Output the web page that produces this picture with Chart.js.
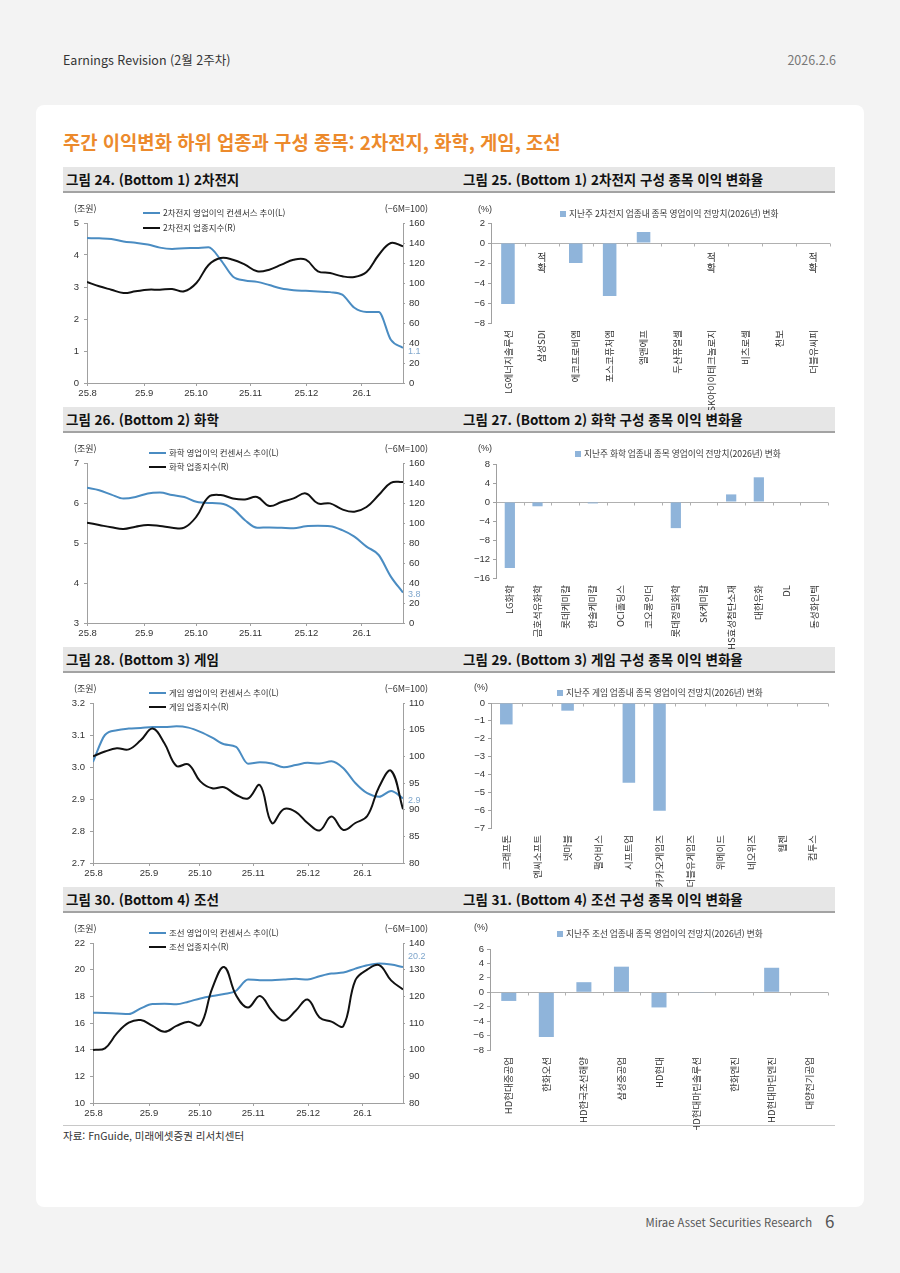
<!DOCTYPE html>
<html lang="ko"><head><meta charset="utf-8">
<script src="https://cdn.jsdelivr.net/npm/chart.js@4.4.1/dist/chart.umd.min.js"></script>
<style>
html,body{margin:0;padding:0;}
body{width:900px;height:1273px;background:#f3f3f3;position:relative;overflow:hidden;font-family:"Noto Sans CJK KR","Noto Sans",sans-serif;color:#222;}
.a{position:absolute;white-space:nowrap;}
#panel{left:36px;top:105px;width:828px;height:1102px;background:#fff;border-radius:8px;}
.hdr{position:absolute;left:63px;width:772px;height:24px;background:#e6e6e6;border-bottom:2px solid #a3a3a3;}
.ht{position:absolute;top:0;font-size:13.5px;font-weight:700;color:#111;line-height:24px;white-space:nowrap;}
canvas{position:absolute;}
</style></head><body>
<div class="a" style="left:63px;top:50px;font-size:12.5px;color:#333">Earnings Revision (2월 2주차)</div>
<div class="a" style="right:64px;top:50px;font-size:12.5px;color:#777">2026.2.6</div>
<div id="panel" class="a"></div>
<div class="a" style="left:63px;top:128px;font-size:18.8px;font-weight:700;color:#ec8a2c">주간 이익변화 하위 업종과 구성 종목: 2차전지, 화학, 게임, 조선</div>

<div class="hdr" style="top:167px"><span class="ht" style="left:3px">그림 24. (Bottom 1) 2차전지</span><span class="ht" style="left:400px">그림 25. (Bottom 1) 2차전지 구성 종목 이익 변화율</span></div>
<div class="hdr" style="top:407px"><span class="ht" style="left:3px">그림 26. (Bottom 2) 화학</span><span class="ht" style="left:400px">그림 27. (Bottom 2) 화학 구성 종목 이익 변화율</span></div>
<div class="hdr" style="top:647px"><span class="ht" style="left:3px">그림 28. (Bottom 3) 게임</span><span class="ht" style="left:400px">그림 29. (Bottom 3) 게임 구성 종목 이익 변화율</span></div>
<div class="hdr" style="top:887px"><span class="ht" style="left:3px">그림 30. (Bottom 4) 조선</span><span class="ht" style="left:400px">그림 31. (Bottom 4) 조선 구성 종목 이익 변화율</span></div>

<canvas id="c24" width="380" height="205" style="left:60px;top:200px"></canvas>
<canvas id="c25" width="380" height="210" style="left:460px;top:200px"></canvas>
<canvas id="c26" width="380" height="205" style="left:60px;top:440px"></canvas>
<canvas id="c27" width="380" height="210" style="left:460px;top:440px"></canvas>
<canvas id="c28" width="380" height="205" style="left:60px;top:680px"></canvas>
<canvas id="c29" width="380" height="210" style="left:460px;top:680px"></canvas>
<canvas id="c30" width="380" height="205" style="left:60px;top:920px"></canvas>
<canvas id="c31" width="380" height="210" style="left:460px;top:920px"></canvas>

<div class="a" style="left:63px;top:1125px;width:772px;height:1px;background:#c8c8c8"></div>
<div class="a" style="left:63px;top:1128px;font-size:10.5px;color:#333">자료: FnGuide, 미래에셋증권 리서치센터</div>
<div class="a" style="right:88px;top:1214px;font-size:11.3px;color:#555">Mirae Asset Securities Research</div>
<div class="a" style="left:825px;top:1208px;font-size:17px;color:#555">6</div>

<script>
// ---------- DATA ----------
const weekIdx = [0,1,2,3,4,5,6,7,8,9,10,11,12,13,14,15,16,17,18,19,20,21,22,23,24,25,26];
const monthLabels = ['25.8','25.9','25.10','25.11','25.12','26.1'];
const monthPos = [0.05,4.7,8.97,13.45,18.05,22.6];

const battCons = [4.53,4.52,4.50,4.42,4.38,4.33,4.23,4.19,4.21,4.22,4.24,3.85,3.33,3.20,3.16,3.06,2.95,2.90,2.88,2.86,2.84,2.76,2.35,2.22,2.22,1.35,1.10];
const battIdx  = [101,96.7,93.3,90,91.7,93.3,93.3,94,91.7,100,118,125,123.3,118.3,111.7,113.3,118.3,123.3,123.3,111.7,110,106.7,106,111,128,140,136.7];

const chemCons = [6.38,6.32,6.21,6.11,6.15,6.24,6.26,6.20,6.15,6.03,6.00,5.99,5.86,5.57,5.38,5.39,5.38,5.37,5.42,5.43,5.42,5.32,5.16,4.91,4.70,4.16,3.76];
const chemIdx  = [100.3,98,95.7,94,96.3,98,97,95.3,95.3,106.3,126,127.9,124.6,123.6,126,117,121,124.6,129.6,119.6,119.6,113.6,111.3,116,128,140.2,141];

const gameCons = [3.016,3.100,3.115,3.120,3.122,3.125,3.125,3.127,3.123,3.110,3.092,3.071,3.063,3.010,3.015,3.011,2.999,3.006,3.013,3.011,3.018,2.996,2.950,2.918,2.907,2.925,2.902];
const gameIdx  = [100,100.9,101.5,101.3,103,105.2,102.4,98.2,98.5,95.3,94,94.2,92.8,92.1,94.6,87.5,90.1,89.6,87.5,86.1,88.7,86.2,87.5,88.8,94.3,97.3,90.1];

const shipCons = [16.77,16.75,16.72,16.67,17.10,17.42,17.44,17.40,17.60,17.84,18.02,18.17,18.42,19.26,19.21,19.21,19.26,19.31,19.26,19.51,19.71,19.78,20.08,20.33,20.46,20.38,20.20];
const shipIdx  = [99.9,100.5,106.1,110.1,111.1,108.9,106.7,108.9,110.5,109.2,123,131,120.4,115.8,120.1,114.6,110.9,114.6,118.8,112.1,110.5,108.9,126,130,131.7,126,122.6];

const battNames = ['LG에너지솔루션','삼성SDI','에코프로비엠','포스코퓨처엠','엘앤에프','두산퓨얼셀','SK아이이테크놀로지','비츠로셀','천보','더블유씨피'];
const battChg   = [-6.1,null,-2.0,-5.3,1.1,0,null,0,0,null];
const battNotes = ['','적확','','','','','적확','','','적확'];
const noteLevels = [-1.4,-2.5];

const chemNames = ['LG화학','금호석유화학','롯데케미칼','한솔케미칼','OCI홀딩스','코오롱인더','롯데정밀화학','SK케미칼','HS효성첨단소재','대한유화','DL','동성화인텍'];
const chemChg   = [-13.9,-0.9,0,-0.3,0,0,-5.5,0,1.6,5.2,0,0];

const gameNames = ['크래프톤','엔씨소프트','넷마블','펄어비스','시프트업','카카오게임즈','더블유게임즈','위메이드','네오위즈','웹젠','컴투스'];
const gameChg   = [-1.2,0,-0.43,0,-4.46,-6.03,0,0,0,0,0];

const shipNames = ['HD현대중공업','한화오션','HD한국조선해양','삼성중공업','HD현대','HD현대마린솔루션','한화엔진','HD현대마린엔진','대양전기공업'];
const shipChg   = [-1.2,-6.2,1.4,3.55,-2.1,-0.1,0,3.4,0];

// ---------- STYLE ----------
const FONT = '"Liberation Sans","Noto Sans CJK KR",sans-serif';
const KFONT = '"Noto Sans CJK KR","Liberation Sans",sans-serif';
const BLUE = '#4a8cc2', BLACK = '#111111', BAR = '#8fb4da', ENDC = '#7fa6cc', AX = '#a0a0a0';
Chart.defaults.font.family = FONT;
Chart.defaults.color = '#333';

const lineExtras = {
  id: 'lineExtras',
  afterDraw(chart, args, o) {
    const c = chart.ctx; c.save();
    c.font = '9px ' + KFONT; c.fillStyle = '#333'; c.textBaseline = 'middle';
    c.textAlign = 'left'; c.fillText('(조원)', o.unitLX, o.unitY);
    c.textAlign = 'right'; c.fillText('(\u22126M=100)', 368, o.unitY);
    c.textAlign = 'left';
    chart.data.datasets.forEach((ds, i) => {
      const y = o.legY[i];
      c.strokeStyle = ds.borderColor; c.lineWidth = 2;
      c.beginPath(); c.moveTo(o.legX, y); c.lineTo(o.legX + 17, y); c.stroke();
      c.fillStyle = '#333'; c.font = '8.5px ' + KFONT; c.fillText(ds.label, o.legX + 20, y);
    });
    const d = chart.data.datasets[0].data; const v = d[d.length - 1];
    c.fillStyle = ENDC; c.font = '9px ' + FONT;
    c.fillText(v.toFixed(1), chart.chartArea.right + 5, chart.scales.yL.getPixelForValue(v) + o.endDy);
    c.restore();
  }
};

function lineChart(id, cfg) {
  return new Chart(document.getElementById(id), {
    type: 'line',
    data: { labels: weekIdx, datasets: [
      { label: cfg.names[0], data: cfg.blue, yAxisID: 'yL', borderColor: BLUE, borderWidth: 2, pointRadius: 0, cubicInterpolationMode: 'monotone', order: 1 },
      { label: cfg.names[1], data: cfg.black, yAxisID: 'yR', borderColor: BLACK, borderWidth: 2, pointRadius: 0, tension: 0.4, order: 0 }
    ]},
    plugins: [lineExtras],
    options: {
      responsive: false, animation: false, events: [],
      layout: { padding: { top: 23, left: 0, right: 0, bottom: 0 } },
      plugins: { legend: { display: false }, tooltip: { enabled: false },
        lineExtras: { unitLX: 14, unitY: 9, legX: cfg.legX, legY: cfg.legY, endDy: cfg.endDy } },
      scales: {
        x: { type: 'linear', min: 0, max: 26,
          afterBuildTicks: s => { s.ticks = monthPos.map(v => ({ value: v })); },
          ticks: { callback: (v, i) => monthLabels[i], font: { size: 9.5 }, padding: 2, maxRotation: 0, autoSkip: false },
          grid: { drawOnChartArea: false, tickLength: 3, color: AX },
          border: { color: AX },
          afterFit: s => { s.height = 22; } },
        yL: { position: 'left', min: cfg.yL[0], max: cfg.yL[1],
          ticks: { stepSize: cfg.yL[2], font: { size: 9.5 }, padding: 5, callback: v => cfg.dec ? v.toFixed(1) : v },
          grid: { drawOnChartArea: false, tickLength: 3, color: AX }, border: { color: AX },
          afterFit: s => { s.width = cfg.leftW; } },
        yR: { position: 'right', min: cfg.yR[0], max: cfg.yR[1],
          ticks: { stepSize: cfg.yR[2], font: { size: 9.5 }, padding: 4 },
          grid: { drawOnChartArea: false, tickLength: 2, color: AX }, border: { color: AX },
          afterFit: s => { s.width = 37; } }
      }
    }
  });
}

const barExtras = {
  id: 'barExtras',
  afterDraw(chart, args, o) {
    const c = chart.ctx, a = chart.chartArea, ys = chart.scales.y, xs = chart.scales.x;
    c.save();
    const y0 = Math.round(ys.getPixelForValue(0)) + 0.5;
    const n = chart.data.labels.length, w = (a.right - a.left) / n;
    c.strokeStyle = '#b0b0b0'; c.lineWidth = 1;
    for (let i = 1; i <= n; i++) { const x = Math.round(a.left + i * w) + 0.5; c.beginPath(); c.moveTo(x, y0); c.lineTo(x, y0 + 3); c.stroke(); }
    c.font = '9px ' + FONT; c.fillStyle = '#333'; c.textAlign = 'center'; c.textBaseline = 'middle';
    c.fillText('(%)', o.unitX, o.unitY);
    c.fillStyle = BAR; c.fillRect(o.legX, o.legY - 3, 6, 6);
    c.fillStyle = '#333'; c.textAlign = 'left'; c.font = '8.7px ' + KFONT;
    c.fillText(chart.data.datasets[0].label, o.legX + 9, o.legY);
    if (o.notes) {
      c.font = '10px ' + KFONT; c.textAlign = 'center';
      o.notes.forEach((t, i) => { if (!t) return; const x = xs.getPixelForValue(i);
        [...t].forEach((ch, k) => c.fillText(ch, x, ys.getPixelForValue(noteLevels[k]))); });
    }
    c.restore();
  }
};

function barChart(id, cfg) {
  return new Chart(document.getElementById(id), {
    type: 'bar',
    data: { labels: cfg.labels, datasets: [{ label: cfg.legend, data: cfg.values, backgroundColor: BAR, barPercentage: cfg.bp, categoryPercentage: 1 }] },
    plugins: [barExtras],
    options: {
      responsive: false, animation: false, events: [],
      layout: { padding: { top: cfg.padTop, right: cfg.padRight, left: 0, bottom: 0 } },
      plugins: { legend: { display: false }, tooltip: { enabled: false },
        barExtras: { unitX: cfg.unitX, unitY: cfg.unitY, legX: cfg.legX, legY: cfg.legY, notes: cfg.notes } },
      scales: {
        x: { grid: { display: false, drawTicks: false }, border: { display: false },
          ticks: { autoSkip: false, maxRotation: 90, minRotation: 90, padding: 7, font: { size: 9.5, family: KFONT } },
          afterFit: s => { s.height = cfg.xH; } },
        y: { min: cfg.y[0], max: cfg.y[1],
          ticks: { stepSize: cfg.y[2], font: { size: 9.5 }, padding: 3, callback: v => v < 0 ? '\u2212' + Math.abs(v) : v },
          grid: { color: ctx => ctx.tick && ctx.tick.value === 0 ? '#b0b0b0' : 'rgba(0,0,0,0)', tickColor: AX, tickLength: 3 },
          border: { color: AX },
          afterFit: s => { s.width = cfg.leftW; } }
      }
    }
  });
}

// ---------- CHARTS ----------
lineChart('c24', { blue: battCons, black: battIdx, names: ['2차전지 영업이익 컨센서스 추이(L)', '2차전지 업종지수(R)'],
  yL: [0, 5, 1], yR: [0, 160, 20], leftW: 27, legX: 83, legY: [13, 28], endDy: 4 });
lineChart('c26', { blue: chemCons, black: chemIdx, names: ['화학 영업이익 컨센서스 추이(L)', '화학 업종지수(R)'],
  yL: [3, 7, 1], yR: [0, 160, 20], leftW: 27, legX: 89, legY: [13, 27], endDy: 2 });
lineChart('c28', { blue: gameCons, black: gameIdx, names: ['게임 영업이익 컨센서스 추이(L)', '게임 업종지수(R)'],
  yL: [2.7, 3.2, 0.1], yR: [80, 110, 5], leftW: 33, legX: 89, legY: [13, 27], endDy: 2, dec: true });
lineChart('c30', { blue: shipCons, black: shipIdx, names: ['조선 영업이익 컨센서스 추이(L)', '조선 업종지수(R)'],
  yL: [10, 22, 2], yR: [80, 140, 10], leftW: 33, legX: 89, legY: [13, 27], endDy: -10 });

barChart('c25', { labels: battNames, values: battChg, legend: '지난주 2차전지 업종내 종목 영업이익 전망치(2026년) 변화',
  y: [-8, 2, 2], leftW: 31, padTop: 23, padRight: 10, xH: 87, bp: 0.4, unitX: 25, unitY: 10, legX: 100, legY: 14, notes: battNotes });
barChart('c27', { labels: chemNames, values: chemChg, legend: '지난주 화학 업종내 종목 영업이익 전망치(2026년) 변화',
  y: [-16, 8, 4], leftW: 36, padTop: 24, padRight: 12, xH: 72, bp: 0.37, unitX: 25, unitY: 9, legX: 115, legY: 14 });
barChart('c29', { labels: gameNames, values: gameChg, legend: '지난주 게임 업종내 종목 영업이익 전망치(2026년) 변화',
  y: [-7, 0, 1], leftW: 31, padTop: 23, padRight: 12, xH: 62, bp: 0.41, unitX: 21, unitY: 8, legX: 97, legY: 13 });
barChart('c31', { labels: shipNames, values: shipChg, legend: '지난주 조선 업종내 종목 영업이익 전망치(2026년) 변화',
  y: [-8, 6, 2], leftW: 30, padTop: 29, padRight: 12, xH: 80, bp: 0.4, unitX: 21, unitY: 8, legX: 97, legY: 14 });
</script>
</body></html>
